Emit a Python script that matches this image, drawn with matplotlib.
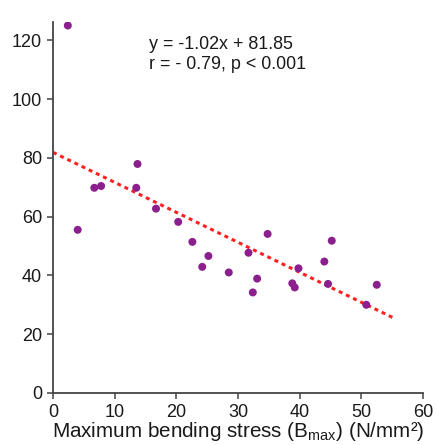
import numpy as np
import matplotlib
matplotlib.use("Agg")
import matplotlib.pyplot as plt

plt.rcParams["font.family"] = ["Liberation Sans", "DejaVu Sans"]
plt.rcParams["mathtext.fontset"] = "custom"
plt.rcParams["mathtext.rm"] = "Liberation Sans"
plt.rcParams["mathtext.it"] = "Liberation Sans"

# bending stress vs. response, one point per sample
stress = [2.4, 4.0, 6.7, 7.8, 13.5, 13.7, 16.7, 20.3, 22.6, 24.2, 25.2, 28.5,
          31.7, 32.4, 33.1, 34.8, 38.8, 39.2, 39.8, 44.0, 44.6, 45.2, 50.8, 52.5]
response = [125.0, 55.5, 69.8, 70.4, 69.8, 77.9, 62.7, 58.2, 51.4, 42.9, 46.6, 41.0,
            47.7, 34.2, 38.9, 54.1, 37.3, 35.9, 42.4, 44.7, 37.1, 51.8, 30.0, 36.8]

# fitted regression line
slope = -1.02
intercept = 81.85
fit_range = [0, 55.2]

x_ticks = [0, 10, 20, 30, 40, 50, 60]
y_ticks = [0, 20, 40, 60, 80, 100, 120]

fig = plt.figure(figsize=(4.36, 4.45), dpi=100)
ax = fig.add_axes([0.1216, 0.1169, 0.8486, 0.8337])

fx = np.array(fit_range)
ax.plot(fx, slope * fx + intercept, color="#ff2020", linestyle=(0, (1.3, 1.3)),
        linewidth=2.2, zorder=2)
ax.scatter(stress, response, s=33, color="#8c1f8e", edgecolors="none", zorder=3)

ax.set_xlim(0, 60)
ax.set_ylim(0, 126.2)
ax.set_xticks(x_ticks)
ax.set_yticks(y_ticks)
ax.tick_params(labelsize=13, colors="#444444", length=4.5, width=1.1,
               labelcolor="#1a1a1a", pad=3.5)
for side in ("top", "right"):
    ax.spines[side].set_visible(False)
for side in ("left", "bottom"):
    ax.spines[side].set_color("#444444")
    ax.spines[side].set_linewidth(1.3)

ax.set_xlabel("Maximum bending stress (B$_{max}$) (N/mm²)", fontsize=14.9,
              color="#1a1a1a", labelpad=-0.5)

ax.text(0.259, 0.962, "y = -1.02x + 81.85\nr = - 0.79, p < 0.001", transform=ax.transAxes,
        fontsize=12.9, color="#1a1a1a", va="top", ha="left", linespacing=1.2)

fig.savefig("out.png", dpi=100, facecolor="white")
